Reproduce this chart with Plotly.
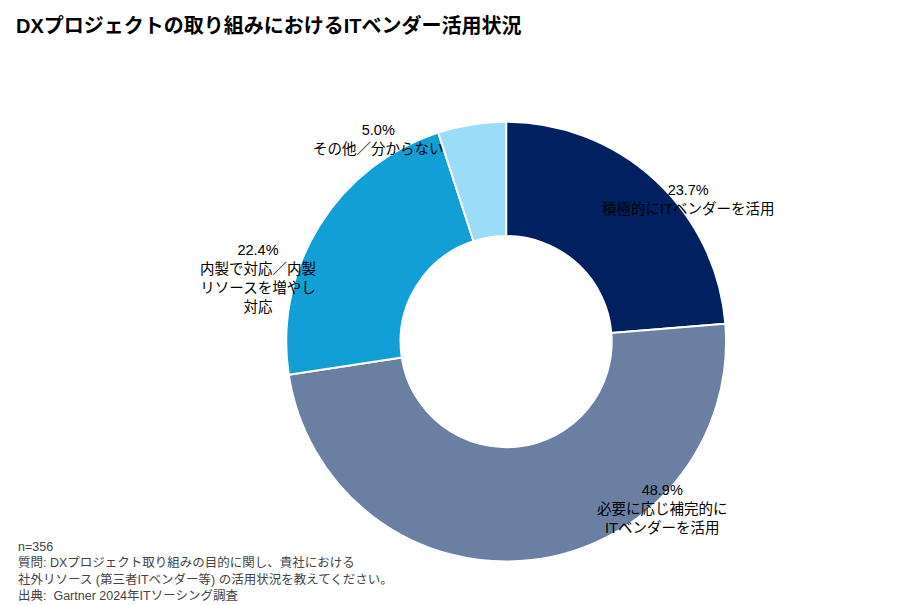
import plotly.graph_objects as go

labels = ["積極的にITベンダーを活用", "必要に応じ補完的に<br>ITベンダーを活用", "内製で対応／内製<br>リソースを増やし<br>対応", "その他／分からない"]
values = [23.7, 48.9, 22.4, 5.0]
colors = ["#002060", "#6A7FA2", "#119FD6", "#9BDCF8"]
label_pos = [(768, 172), (722, 530), (190, 270), (370, 112)]

FONT = "Liberation Sans, Noto Sans CJK JP, sans-serif"
W, H = 900, 605

fig = go.Figure(go.Pie(
    values=values, labels=labels, hole=0.48, sort=False, direction="clockwise",
    rotation=0, marker=dict(colors=colors, line=dict(color="white", width=2)),
    textinfo="none", hoverinfo="label+percent", showlegend=False,
    domain=dict(x=[0.309, 0.798], y=[0.085, 0.812]),
))

for lab, val, (x, y) in zip(labels, values, label_pos):
    fig.add_annotation(x=x / W, y=1 - y / H, xref="paper", yref="paper", showarrow=False,
                       text=f"{val:.1f}%<br>{lab}", align="center",
                       font=dict(size=14.5, color="#000", family=FONT))

fig.add_annotation(x=6 / W, y=1 - 18 / H, xref="paper", yref="paper", showarrow=False,
                   xanchor="left", yanchor="middle",
                   text="<b>DXプロジェクトの取り組みにおけるITベンダー活用状況</b>",
                   font=dict(size=20, color="#000", family=FONT))
fig.add_annotation(x=8 / W, y=1 - 597 / H, xref="paper", yref="paper", showarrow=False,
                   xanchor="left", yanchor="bottom", align="left",
                   text="n=356<br>質問: DXプロジェクト取り組みの目的に関し、貴社における<br>社外リソース (第三者ITベンダー等) の活用状況を教えてください。<br>出典:  Gartner 2024年ITソーシング調査",
                   font=dict(size=12.5, color="#444", family=FONT))

fig.update_layout(width=W, height=H, margin=dict(l=0, r=0, t=0, b=0),
                  paper_bgcolor="white", plot_bgcolor="white")
fig.write_html("out.html")
